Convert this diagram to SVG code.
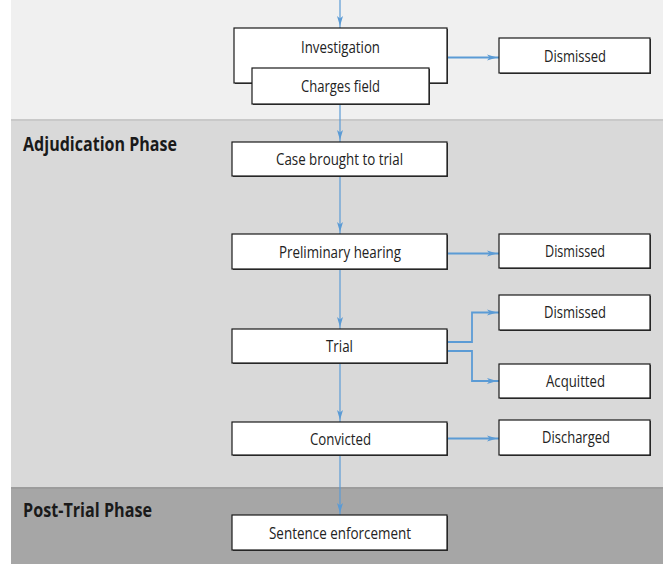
<svg xmlns="http://www.w3.org/2000/svg" width="663" height="567" viewBox="0 0 663 567">
<style>
.box{fill:#ffffff;stroke:#1a1a1a;stroke-width:1.2}
.sh{fill:#3a3a3a}
.t{font-family:"Open Sans","Liberation Sans",sans-serif;font-size:16.5px;fill:#222222;text-anchor:middle}
.ph{font-family:"Open Sans","Liberation Sans",sans-serif;font-size:19.5px;font-weight:bold;fill:#1a1a1a}
.c{fill:none;stroke:#5b9bd5;stroke-width:1.2}
.ch{fill:none;stroke:#5b9bd5;stroke-width:1.8}
</style>
<defs>
<marker id="ah" markerWidth="14" markerHeight="8" refX="12" refY="4" orient="auto" markerUnits="userSpaceOnUse" viewBox="0 0 14 8">
<path d="M0,1 L10,4 L0,7 L2.5,4 Z" fill="#5b9bd5"/>
</marker>
</defs>
<rect x="0" y="0" width="663" height="567" fill="#ffffff"/>
<g id="bands">
<rect x="11" y="0" width="652" height="120" fill="#f0f0f0"/>
<rect x="11" y="119" width="652" height="369" fill="#d9d9d9"/>
<rect x="11" y="119" width="652" height="2" fill="#c9c9c9"/>
<rect x="11" y="488" width="652" height="76" fill="#a6a6a6"/>
<rect x="11" y="487" width="652" height="2" fill="#9c9c9c"/>
<text class="ph" x="23" y="151" textLength="154" lengthAdjust="spacingAndGlyphs">Adjudication Phase</text>
<text class="ph" x="23" y="517" textLength="129" lengthAdjust="spacingAndGlyphs">Post-Trial Phase</text>
</g>
<g id="connectors">
<line class="c" x1="340" y1="0" x2="340" y2="28" marker-end="url(#ah)"/>
<line class="ch" x1="447" y1="57.5" x2="499" y2="57.5" marker-end="url(#ah)"/>
<line class="c" x1="340" y1="104" x2="340" y2="142" marker-end="url(#ah)"/>
<line class="c" x1="340" y1="176" x2="340" y2="234" marker-end="url(#ah)"/>
<line class="ch" x1="447" y1="253.5" x2="499" y2="253.5" marker-end="url(#ah)"/>
<line class="c" x1="340" y1="269" x2="340" y2="329" marker-end="url(#ah)"/>
<polyline class="ch" points="447,342 472,342 472,312.5 499,312.5" marker-end="url(#ah)"/>
<polyline class="ch" points="447,351 472,351 472,381 499,381" marker-end="url(#ah)"/>
<line class="c" x1="340" y1="363" x2="340" y2="422" marker-end="url(#ah)"/>
<line class="ch" x1="447" y1="438.5" x2="499" y2="438.5" marker-end="url(#ah)"/>
<line class="c" x1="340" y1="455" x2="340" y2="515" marker-end="url(#ah)"/>
</g>
<g id="investigation">
<rect class="sh" x="235" y="29" width="213" height="55"/>
<rect class="box" x="234" y="28" width="213" height="55"/>
<text class="t" x="340.5" y="53" textLength="79" lengthAdjust="spacingAndGlyphs">Investigation</text>
</g>
<g id="charges">
<rect class="sh" x="253" y="69" width="177" height="36"/>
<rect class="box" x="252" y="68" width="177" height="36"/>
<text class="t" x="340.5" y="91.5" textLength="79" lengthAdjust="spacingAndGlyphs">Charges field</text>
</g>
<g id="dismissed1">
<rect class="sh" x="500" y="39" width="151" height="35"/>
<rect class="box" x="499" y="38" width="151" height="35"/>
<text class="t" x="575" y="62" textLength="62" lengthAdjust="spacingAndGlyphs">Dismissed</text>
</g>
<g id="case">
<rect class="sh" x="233" y="143" width="215" height="34"/>
<rect class="box" x="232" y="142" width="215" height="34"/>
<text class="t" x="339.5" y="165" textLength="127" lengthAdjust="spacingAndGlyphs">Case brought to trial</text>
</g>
<g id="preliminary">
<rect class="sh" x="233" y="235" width="215" height="35"/>
<rect class="box" x="232" y="234" width="215" height="35"/>
<text class="t" x="340" y="258" textLength="122" lengthAdjust="spacingAndGlyphs">Preliminary hearing</text>
</g>
<g id="dismissed2">
<rect class="sh" x="500" y="235" width="151" height="34"/>
<rect class="box" x="499" y="234" width="151" height="34"/>
<text class="t" x="575" y="257" textLength="60" lengthAdjust="spacingAndGlyphs">Dismissed</text>
</g>
<g id="trial">
<rect class="sh" x="233" y="330" width="215" height="34"/>
<rect class="box" x="232" y="329" width="215" height="34"/>
<text class="t" x="339.5" y="352" textLength="27" lengthAdjust="spacingAndGlyphs">Trial</text>
</g>
<g id="dismissed3">
<rect class="sh" x="500" y="296" width="151" height="35"/>
<rect class="box" x="499" y="295" width="151" height="35"/>
<text class="t" x="575" y="318" textLength="62" lengthAdjust="spacingAndGlyphs">Dismissed</text>
</g>
<g id="acquitted">
<rect class="sh" x="500" y="365" width="151" height="34"/>
<rect class="box" x="499" y="364" width="151" height="34"/>
<text class="t" x="575.5" y="387" textLength="59" lengthAdjust="spacingAndGlyphs">Acquitted</text>
</g>
<g id="convicted">
<rect class="sh" x="233" y="423" width="215" height="33"/>
<rect class="box" x="232" y="422" width="215" height="33"/>
<text class="t" x="340.5" y="444.5" textLength="61" lengthAdjust="spacingAndGlyphs">Convicted</text>
</g>
<g id="discharged">
<rect class="sh" x="500" y="421" width="151" height="35"/>
<rect class="box" x="499" y="420" width="151" height="35"/>
<text class="t" x="576" y="443" textLength="68" lengthAdjust="spacingAndGlyphs">Discharged</text>
</g>
<g id="sentence">
<rect class="sh" x="233" y="516" width="215" height="35"/>
<rect class="box" x="232" y="515" width="215" height="35"/>
<text class="t" x="340" y="538.5" textLength="142" lengthAdjust="spacingAndGlyphs">Sentence enforcement</text>
</g>
</svg>
